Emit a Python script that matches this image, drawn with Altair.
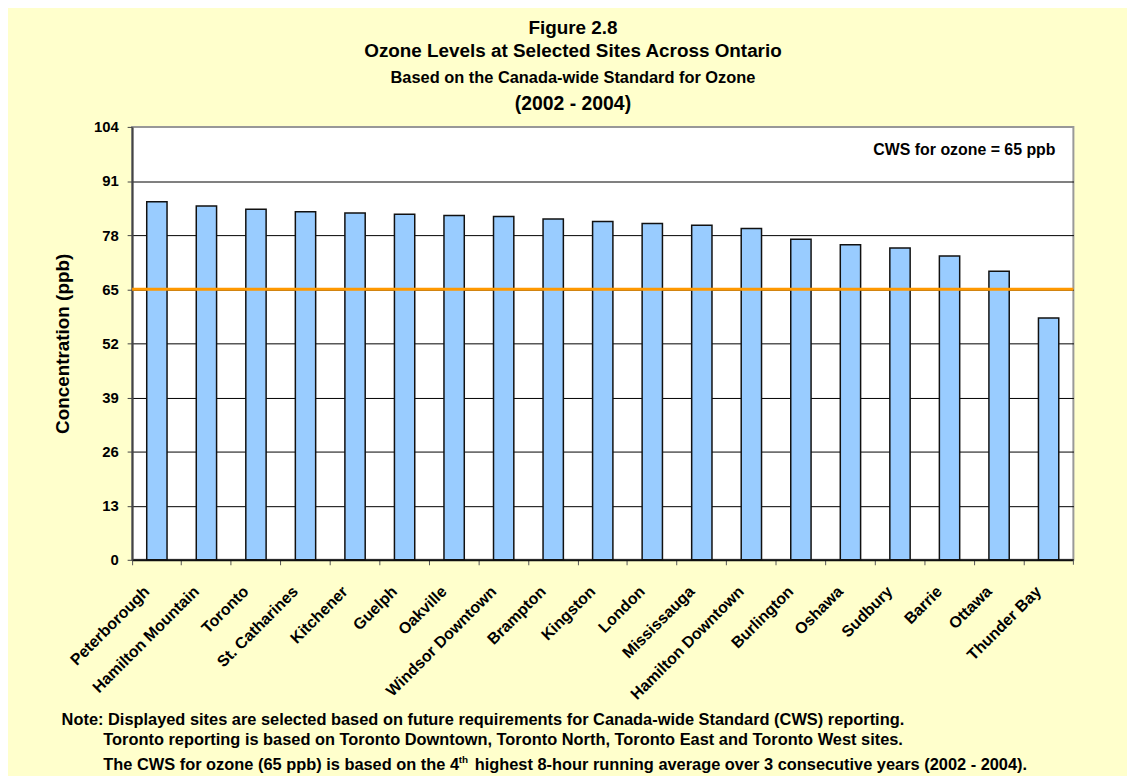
import altair as alt
import pandas as pd

# ---- data ----
sites = ["Peterborough", "Hamilton Mountain", "Toronto", "St. Catharines", "Kitchener",
         "Guelph", "Oakville", "Windsor Downtown", "Brampton", "Kingston", "London",
         "Mississauga", "Hamilton Downtown", "Burlington", "Oshawa", "Sudbury", "Barrie",
         "Ottawa", "Thunder Bay"]
ozone_ppb = [86.0, 85.0, 84.2, 83.6, 83.3, 83.0, 82.7, 82.5, 81.9, 81.3, 80.8,
             80.4, 79.6, 77.0, 75.7, 74.9, 73.0, 69.3, 58.1]
cws_value = [65]
y_ticks = [0, 13, 26, 39, 52, 65, 78, 91, 104]

title_lines = ["Figure 2.8", "Ozone Levels at Selected Sites Across Ontario",
               "Based on the Canada-wide Standard for Ozone", "(2002 - 2004)"]
cws_label = ["CWS for ozone = 65 ppb"]
note_lines = ["Note: Displayed sites are selected based on future requirements for Canada-wide Standard (CWS) reporting.",
              "Toronto reporting is based on Toronto Downtown, Toronto North, Toronto East and Toronto West sites."]
note3_parts = ["The CWS for ozone (65 ppb) is based on the 4", "th",
               "highest 8-hour running average over 3 consecutive years (2002 - 2004)."]
y_title = "Concentration (ppb)"

FONT = "Liberation Sans, Arial, Helvetica, sans-serif"
W, H = 948, 436

df = pd.DataFrame({"site": sites, "ozone": ozone_ppb})

bars = alt.Chart(df).mark_bar(
    fill="#99CCFF", stroke="#111111", strokeWidth=1.5, width={"band": 0.41}
).encode(
    x=alt.X("site:N", sort=None, title=None,
            scale=alt.Scale(paddingInner=0, paddingOuter=0),
            axis=alt.Axis(bandPosition=0, labelAngle=-45, labelAlign="right",
                          labelBaseline="middle", labelOffset=-10, labelPadding=24,
                          labelFontSize=16, labelFontWeight="bold", labelColor="black",
                          labelFont=FONT, tickSize=5, tickColor="#555555",
                          domainColor="#111111", domainWidth=2, grid=False)),
    y=alt.Y("ozone:Q", scale=alt.Scale(domain=[0, 104], nice=False, zero=True),
            axis=alt.Axis(values=y_ticks, title=y_title, titleFontSize=19,
                          titleFontWeight="bold", titleFont=FONT, titleColor="black",
                          titleX=-70, titleY=H / 2, titleAlign="center",
                          titleBaseline="middle", titleAngle=270,
                          labelFontSize=15, labelFontWeight="bold", labelFont=FONT,
                          labelColor="black", labelPadding=9, tickSize=5,
                          tickColor="#444444", domainColor="#444444", domainWidth=2,
                          gridColor=alt.condition("datum.value == 104",
                                                  alt.value("#999999"), alt.value("#000000")),
                          gridWidth=1)),
)

cws_rule = alt.Chart(pd.DataFrame({"v": cws_value})).mark_rule(
    color="#FF9900", strokeWidth=3
).encode(y="v:Q")

end_tick = alt.Chart(pd.DataFrame({"k": [0]})).mark_rule(
    color="#555555", strokeWidth=1
).encode(x=alt.value(W), y=alt.value(H), y2=alt.value(H + 5))


def text_layer(txt, x, y, size, align="left", baseline="alphabetic"):
    return alt.Chart(pd.DataFrame({"t": [txt]})).mark_text(
        align=align, baseline=baseline, fontSize=size, fontWeight="bold",
        font=FONT, color="black"
    ).encode(text="t:N", x=alt.value(x), y=alt.value(y))


layers = [bars, cws_rule, end_tick]
# titles
layers.append(text_layer(title_lines[0], 444, -94, 19, align="center"))
layers.append(text_layer(title_lines[1], 444, -70, 19, align="center"))
layers.append(text_layer(title_lines[2], 444, -44, 16.5, align="center"))
layers.append(text_layer(title_lines[3], 444, -17, 19.5, align="center"))
# CWS label
layers.append(text_layer(cws_label[0], 930, 28, 16, align="right"))
# notes
layers.append(text_layer(note_lines[0], -71, 602, 16.5))
layers.append(text_layer(note_lines[1], -29, 623, 16.5))
layers.append(text_layer(note3_parts[0], -29, 648, 16.5))
layers.append(text_layer(note3_parts[1], 329, 641, 10))
layers.append(text_layer(note3_parts[2], 345, 648, 16.5))

chart = alt.layer(*layers).properties(
    width=W, height=H,
    background="#FFFFCC",
    padding={"left": 125, "top": 117, "right": 54, "bottom": 216},
    autosize=alt.AutoSizeParams(type="none"),
).configure_view(
    fill="white", stroke="#999999", strokeWidth=2
)

chart.save("out.html", embed_options={"renderer": "svg", "actions": False})
